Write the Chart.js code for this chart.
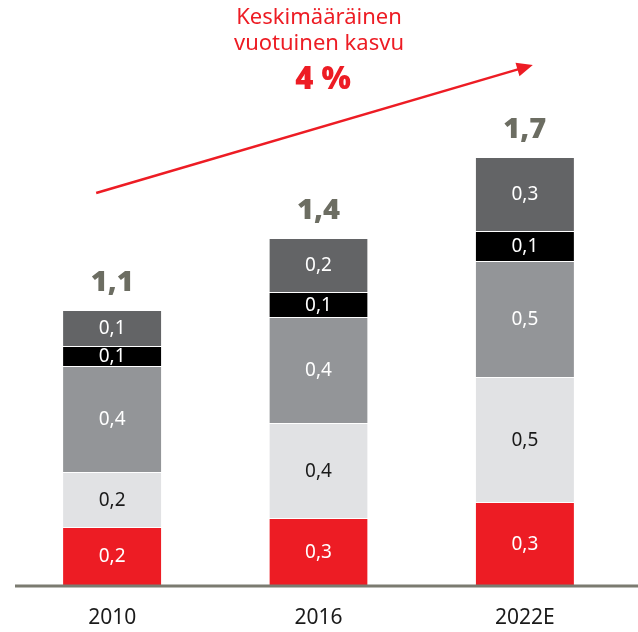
<!DOCTYPE html>
<html>
<head>
<meta charset="utf-8">
<script src="https://cdn.jsdelivr.net/npm/chart.js@4"></script>
<style>
  body { margin: 0; background: #fff; }
  canvas { display: block; }
</style>
</head>
<body>
<canvas id="growthChart" width="638" height="632"></canvas>
<script>
// categories and stacked segments (bottom to top)
const years = ["2010", "2016", "2022E"];
const redPart = [0.232, 0.268, 0.332];
const lightGreyPart = [0.22, 0.38, 0.5];
const midGreyPart = [0.424, 0.424, 0.464];
const blackPart = [0.08, 0.1, 0.12];
const darkGreyPart = [0.144, 0.216, 0.296];

const titleLines = ["Keskimääräinen", "vuotuinen kasvu"];
const growthText = "4 %";

const FONT = "'Noto Sans', sans-serif";

const fmt = v => v.toFixed(1).replace(".", ",");

document.addEventListener("DOMContentLoaded", () => {
  const ctx = document.getElementById("growthChart");

  const segments = [
    { data: redPart, bg: "#ed1c24", text: "#ffffff" },
    { data: lightGreyPart, bg: "#e1e2e4", text: "#1a1a1a" },
    { data: midGreyPart, bg: "#939598", text: "#ffffff" },
    { data: blackPart, bg: "#000000", text: "#ffffff" },
    { data: darkGreyPart, bg: "#636466", text: "#ffffff" }
  ];

  /* ========== labels inside bars + totals ========== */
  const barLabels = {
    id: "barLabels",
    afterDatasetsDraw(chart) {
      const c = chart.ctx;
      c.save();
      c.textAlign = "center";
      c.textBaseline = "middle";
      c.font = "19px " + FONT;
      chart.data.datasets.forEach((ds, i) => {
        const meta = chart.getDatasetMeta(i);
        meta.data.forEach((bar, j) => {
          const yMid = (bar.y + bar.base) / 2;
          c.fillStyle = ds.textColor;
          c.fillText(fmt(ds.data[j]), bar.x, yMid + 1);
        });
      });

      // totals above bars
      const last = chart.getDatasetMeta(chart.data.datasets.length - 1);
      c.font = "900 29px " + FONT;
      c.fillStyle = "#6c6d62";
      years.forEach((y, j) => {
        const total = chart.data.datasets.reduce((s, ds) => s + ds.data[j], 0);
        const bar = last.data[j];
        c.fillText(fmt(total), bar.x, bar.y - 27);
      });
      c.restore();
    }
  };

  /* ========== baseline, heading and growth arrow ========== */
  const decorations = {
    id: "decorations",
    afterDraw(chart) {
      const c = chart.ctx;
      const xs = chart.scales.x;
      const ys = chart.scales.y;
      c.save();

      // baseline
      const y0 = ys.getPixelForValue(0);
      c.strokeStyle = "#7b7b70";
      c.lineWidth = 3;
      c.beginPath();
      c.moveTo(chart.chartArea.left + 6, y0 + 1);
      c.lineTo(chart.width, y0 + 1);
      c.stroke();

      // heading
      c.fillStyle = "#ed1c24";
      c.textAlign = "center";
      c.textBaseline = "middle";
      c.font = "22px " + FONT;
      c.fillText(titleLines[0], 319, 18);
      c.fillText(titleLines[1], 319, 44);
      c.font = "900 31px " + FONT;
      c.fillText(growthText, 323, 80);

      // arrow
      const x1 = xs.getPixelForValue(0) - 16;
      const yA = ys.getPixelForValue(1.568);
      const x2 = xs.getPixelForValue(2) + 8;
      const yB = ys.getPixelForValue(2.08);
      const ang = Math.atan2(yB - yA, x2 - x1);
      c.strokeStyle = "#ed1c24";
      c.lineWidth = 2.5;
      c.beginPath();
      c.moveTo(x1, yA);
      c.lineTo(x2 - 12 * Math.cos(ang), yB - 12 * Math.sin(ang));
      c.stroke();
      c.beginPath();
      c.moveTo(x2, yB);
      c.lineTo(x2 - 16 * Math.cos(ang) + 7 * Math.sin(ang), yB - 16 * Math.sin(ang) - 7 * Math.cos(ang));
      c.lineTo(x2 - 16 * Math.cos(ang) - 7 * Math.sin(ang), yB - 16 * Math.sin(ang) + 7 * Math.cos(ang));
      c.closePath();
      c.fill();
      c.restore();
    }
  };

  new Chart(ctx, {
    type: "bar",
    data: {
      labels: years,
      datasets: segments.map(s => ({
        data: s.data,
        backgroundColor: s.bg,
        textColor: s.text,
        borderColor: "#ffffff",
        borderWidth: { top: 1, bottom: 0, left: 0, right: 0 },
        borderSkipped: false,
        barPercentage: 0.476,
        categoryPercentage: 1
      }))
    },
    options: {
      responsive: false,
      animation: false,
      layout: { padding: { left: 9, right: 10, top: 0, bottom: 0 } },
      plugins: {
        legend: { display: false },
        tooltip: { enabled: false }
      },
      scales: {
        x: {
          stacked: true,
          grid: { display: false, drawTicks: false },
          border: { display: false },
          ticks: {
            color: "#1a1a1a",
            font: { family: FONT, size: 21 },
            padding: 20
          },
          afterFit(scale) { scale.height = 47; }
        },
        y: {
          stacked: true,
          display: false,
          min: 0,
          max: 2.34
        }
      }
    },
    plugins: [barLabels, decorations]
  });
});
</script>
</body>
</html>
